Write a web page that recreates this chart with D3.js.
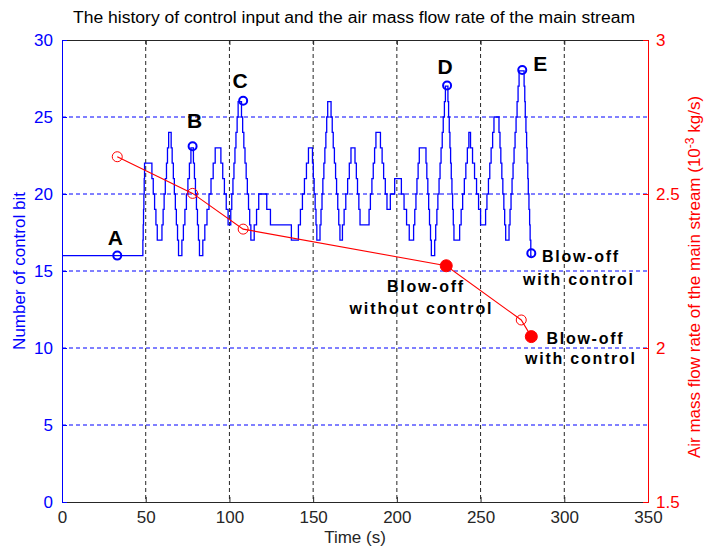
<!DOCTYPE html>
<html><head><meta charset="utf-8">
<script src="https://cdn.jsdelivr.net/npm/d3@7/dist/d3.min.js"></script>
<style>body{margin:0;background:#fff}svg{display:block}</style>
</head><body>
<svg id="chart" width="706" height="551"></svg>
<script>
// ---------------- data ----------------
const titleText = "The history of control input and the air mass flow rate of the main stream";
const xTicks = [0, 50, 100, 150, 200, 250, 300, 350];
const leftTicks = [0, 5, 10, 15, 20, 25, 30];
const rightTicks = [1.5, 2, 2.5, 3];

// control bit history: [time (s), number of control bit], step-after
const controlSteps = [
  [0,16],[48.3,17],[48.5,18],[48.7,19],[48.9,20],[49.1,21],[49.3,22],
  [53.7,21],[54.5,20],[55.3,19],[56.1,18],[56.9,17],
  [59.7,18],[60.4,19],[61,20],[61.7,21],[62.4,22],[63,23],[63.7,24],
  [65.2,23],[65.8,22],[66.5,21],[67.1,20],[67.7,19],[68.3,18],[69,17],[69.6,16],
  [71.6,17],[72.5,18],[73.4,19],[74.3,20],[75.2,21],[76.1,22],[77,23],
  [78.5,22],[79.1,21],[79.7,20],[80.3,19],[80.9,18],[81.5,17],[82.1,16],
  [84.1,17],[85.3,18],[86.6,19],[87.8,20],[89,21],[90.3,22],[91.5,23],
  [94.9,22],[96,21],[97,20],[98.1,19],[99.2,18],
  [100.8,19],[101.4,20],[102.1,21],[102.7,22],[103.3,23],[103.9,24],[104.6,25],[105.2,26],
  [107.2,25],[107.9,24],[108.6,23],[109.3,22],[110,21],[110.7,20],[111.4,19],[112.1,18],[112.8,17],
  [114.8,18],[116.2,19],[117.5,20],
  [122.3,19],[124.5,18],
  [137,17],
  [141.2,18],[142.4,19],[143.6,20],[144.8,21],[146,22],[147.2,23],
  [149.6,22],[150.1,21],[150.6,20],[151.2,19],[151.7,18],[152.2,17],
  [154.1,18],[154.7,19],[155.3,20],[155.8,21],[156.4,22],[157,23],[157.6,24],[158.1,25],[158.7,26],
  [160.7,25],[161.4,24],[162,23],[162.7,22],[163.4,21],[164,20],[164.7,19],[165.3,18],[166,17],
  [167.5,18],[168.5,19],[169.5,20],[170.6,21],[171.6,22],[172.6,23],
  [175,22],[175.8,21],[176.5,20],[177.3,19],[178,18],
  [183.4,19],[184.2,20],[185.1,21],[185.9,22],[186.7,23],[187.5,24],
  [190.2,23],[191.2,22],[192.1,21],[193.1,20],[194.1,19],
  [196.1,20],[198.7,21],
  [202.7,20],[204.3,19],[205.8,18],[207.4,17],
  [210,18],[210.7,19],[211.4,20],[212,21],[212.7,22],[213.4,23],
  [217.4,22],[217.9,21],[218.5,20],[219,19],[219.5,18],[220.1,17],[220.6,16],
  [222.6,17],[223.2,18],[223.9,19],[224.5,20],[225.2,21],[225.8,22],[226.4,23],[227.1,24],[227.7,25],[228.4,26],[229,27],
  [230.5,26],[230.9,25],[231.3,24],[231.7,23],[232.1,22],[232.5,21],[232.9,20],[233.3,19],[233.7,18],[234.1,17],
  [237.5,18],[238.4,19],[239.3,20],[240.3,21],[241.2,22],[242.1,23],[243,24],
  [244,23],[245.2,22],[246.4,21],[247.6,20],[248.8,19],[250,18],
  [253,19],[253.8,20],[254.7,21],[255.5,22],[256.3,23],[257.2,24],[258,25],
  [261,24],[261.6,23],[262.1,22],[262.7,21],[263.3,20],[263.9,19],[264.4,18],[265,17],
  [267,18],[267.6,19],[268.2,20],[268.8,21],[269.4,22],[270,23],[270.6,24],[271.2,25],[271.8,26],[272.4,27],[273,28],
  [276,27],[276.4,26],[276.7,25],[277.1,24],[277.5,23],[277.8,22],[278.2,21],[278.5,20],[278.9,19],[279.3,18],[279.6,17],[280,16],
  [280.5,16]
];

// marked control points
const markerTime = [33, 78, 108.2, 230, 274.9, 280.3];
const markerBits = [16, 23.1, 26.05, 27.05, 28.05, 16.15];
const markerLetter = ["A", "B", "C", "D", "E", ""];

// air mass flow rate (1e-3 kg/s)
const flowTime = [33, 78, 108.2, 229.5, 274.3, 280.3];
const flowRate = [2.621, 2.502, 2.386, 2.267, 2.091, 2.037];
const flowFilled = [false, false, false, true, false, true];

// ---------------- layout ----------------
const svg = d3.select("#chart");
const L = 62, R = 648, T = 40, B = 502;
const x = d3.scaleLinear().domain([0, 350]).range([L, R]);
const yL = d3.scaleLinear().domain([0, 30]).range([B, T]);
const yR = d3.scaleLinear().domain([1.5, 3]).range([B, T]);
const narrow = "'Liberation Sans Narrow','Arial Narrow','Liberation Sans',Arial,sans-serif";
const bold = "'Liberation Sans',Arial,Helvetica,sans-serif";
const BLUE = "#0000ff", RED = "#ff0000", DARK = "#262626";

// grid
const g = svg.append("g");
g.selectAll("line.xg").data(xTicks.filter(d => d > 0 && d < 350)).enter().append("line")
  .attr("x1", d => x(d)).attr("x2", d => x(d)).attr("y1", T).attr("y2", B)
  .attr("stroke", DARK).attr("stroke-width", 1).attr("stroke-dasharray", "4,3");
g.selectAll("line.yg").data(leftTicks.filter(d => d > 0 && d < 30)).enter().append("line")
  .attr("x1", L).attr("x2", R).attr("y1", d => yL(d)).attr("y2", d => yL(d))
  .attr("stroke", BLUE).attr("stroke-width", 1).attr("stroke-dasharray", "4,3");

// axes
const axB = svg.append("g").attr("transform", `translate(0,${B})`)
  .call(d3.axisBottom(x).tickValues(xTicks).tickSize(-5).tickPadding(9).tickFormat(d3.format("d")));
const axT = svg.append("g").attr("transform", `translate(0,${T})`)
  .call(d3.axisTop(x).tickValues(xTicks).tickSize(-5).tickFormat(""));
[axB, axT].forEach(a => { a.select(".domain").attr("stroke", DARK); a.selectAll(".tick line").attr("stroke", DARK); });
axB.selectAll("text").attr("fill", DARK).style("font-family", narrow).style("font-size", "17px");

const axL = svg.append("g").attr("transform", `translate(${L},0)`)
  .call(d3.axisLeft(yL).tickValues(leftTicks).tickSize(-5).tickPadding(9));
axL.select(".domain").attr("stroke", BLUE);
axL.selectAll(".tick line").attr("stroke", BLUE);
axL.selectAll("text").attr("fill", BLUE).style("font-family", narrow).style("font-size", "17px");

const axR = svg.append("g").attr("transform", `translate(${R},0)`)
  .call(d3.axisRight(yR).tickValues(rightTicks).tickSize(-5).tickPadding(8).tickFormat(d => d));
axR.select(".domain").attr("stroke", RED);
axR.selectAll(".tick line").attr("stroke", RED);
axR.selectAll("text").attr("fill", RED).style("font-family", narrow).style("font-size", "17px");

// control bit line
const lineL = d3.line().x(d => x(d[0])).y(d => yL(d[1])).curve(d3.curveStepAfter);
svg.append("path").datum(controlSteps).attr("d", lineL)
  .attr("fill", "none").attr("stroke", BLUE).attr("stroke-width", 1.3);

// markers on control line
const mk = markerTime.map((t, i) => ({ t, v: markerBits[i], s: markerLetter[i] }));
svg.selectAll("circle.cm").data(mk).enter().append("circle")
  .attr("cx", d => x(d.t)).attr("cy", d => yL(d.v)).attr("r", 4)
  .attr("fill", "none").attr("stroke", BLUE).attr("stroke-width", 2);

// flow rate line
const fl = flowTime.map((t, i) => ({ t, r: flowRate[i], f: flowFilled[i] }));
svg.append("path").datum(fl)
  .attr("d", d3.line().x(d => x(d.t)).y(d => yR(d.r)))
  .attr("fill", "none").attr("stroke", RED).attr("stroke-width", 1.1);
svg.selectAll("circle.fm").data(fl).enter().append("circle")
  .attr("cx", d => x(d.t)).attr("cy", d => yR(d.r)).attr("r", d => d.f ? 6 : 5)
  .attr("fill", d => d.f ? RED : "none").attr("stroke", RED).attr("stroke-width", 1);

// letter annotations
const letterOffset = { A: [-2, -11], B: [2, -18], C: [-3, -13], D: [-2, -11], E: [18, 1] };
svg.selectAll("text.lt").data(mk.filter(d => d.s)).enter().append("text")
  .attr("x", d => x(d.t) + letterOffset[d.s][0]).attr("y", d => yL(d.v) + letterOffset[d.s][1])
  .attr("text-anchor", "middle").style("font-family", bold).style("font-weight", "bold")
  .style("font-size", "21px").attr("fill", "#000").text(d => d.s);

// text notes
function note(str, cx, by, w) {
  svg.append("text").attr("x", cx).attr("y", by).attr("text-anchor", "middle")
    .style("font-family", bold).style("font-weight", "bold").style("font-size", "16px")
    .attr("textLength", w).attr("lengthAdjust", "spacing").attr("fill", "#000").text(str);
}
note("Blow-off", 580, 262, 76);
note("with control", 578, 285, 110);
note("Blow-off", 425, 292, 76);
note("without control", 420.5, 314, 142);
note("Blow-off", 584.5, 344, 76);
note("with control", 580, 364, 110);

// title & axis labels
svg.append("text").attr("x", 354).attr("y", 23).attr("text-anchor", "middle")
  .style("font-family", narrow).style("font-size", "16px").attr("fill", "#000")
  .attr("textLength", 562).attr("lengthAdjust", "spacingAndGlyphs").text(titleText);
svg.append("text").attr("x", x(175)).attr("y", 543).attr("text-anchor", "middle")
  .style("font-family", narrow).style("font-size", "17px").attr("fill", DARK).text("Time (s)");
svg.append("text").attr("transform", `translate(25,${(T + B) / 2}) rotate(-90)`).attr("text-anchor", "middle")
  .style("font-family", narrow).style("font-size", "17px").attr("fill", BLUE).text("Number of control bit");
const rl = svg.append("text").attr("transform", `translate(700,${(T + B) / 2 + 6}) rotate(-90)`).attr("text-anchor", "middle")
  .style("font-family", narrow).style("font-size", "17px").attr("fill", RED);
rl.append("tspan").text("Air mass flow rate of the main stream (10");
rl.append("tspan").attr("dy", -6).style("font-size", "12px").text("-3");
rl.append("tspan").attr("dy", 6).text(" kg/s)");
</script>
</body></html>
